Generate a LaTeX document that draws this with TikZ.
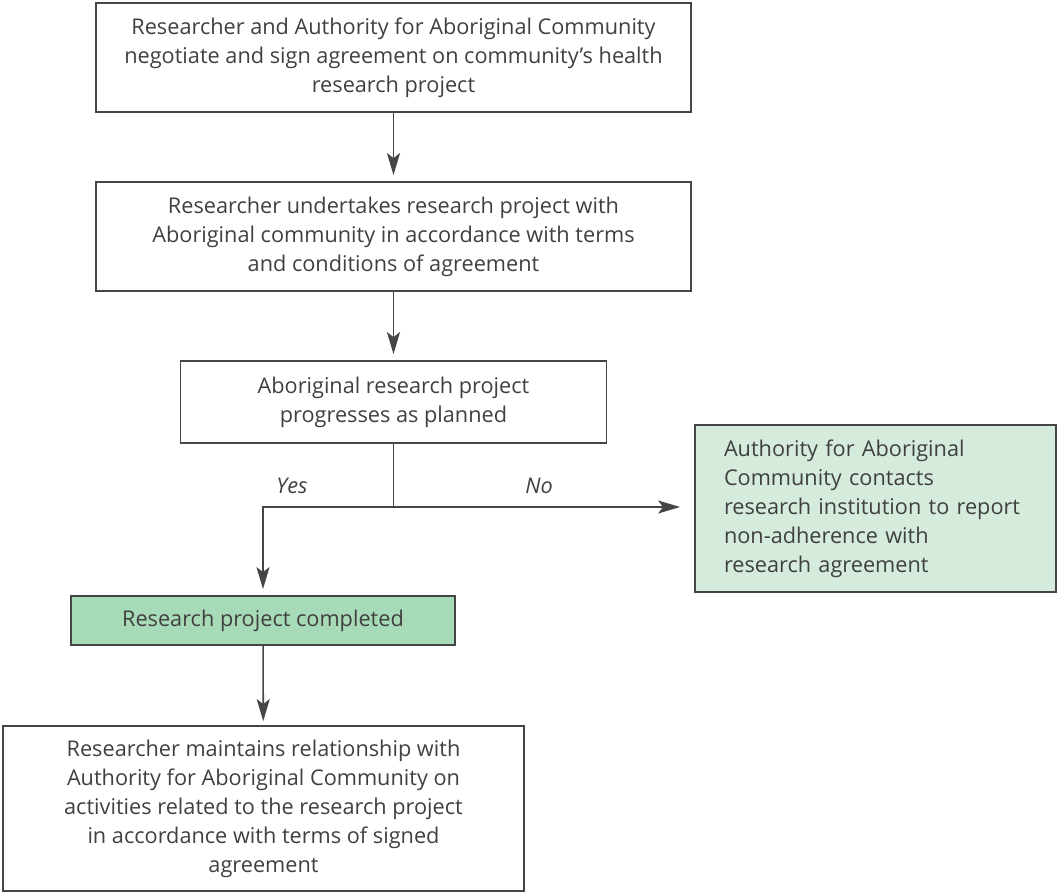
\documentclass[tikz,border=0pt]{standalone}
\usepackage{fontspec}
\setmainfont{Open Sans}
\usetikzlibrary{arrows.meta}
\definecolor{ink}{HTML}{404040}
\definecolor{edge}{HTML}{454545}
\definecolor{gfill}{HTML}{A7DBB7}
\definecolor{lfill}{HTML}{D5ECDD}
\tikzset{
  box/.style={draw=edge, line width=1.8pt, text=ink, align=center, inner sep=0pt,
    font=\fontsize{21.7}{29}\selectfont},
  arr/.style={draw=edge, line width=1.6pt, -{Stealth[length=22pt,width=13pt,inset=5pt]}},
  ln/.style={draw=edge, line width=1.6pt},
  lab/.style={text=ink, font=\fontsize{21.7}{29}\selectfont\itshape, inner sep=0pt, anchor=base}
}
\begin{document}
\begin{tikzpicture}[x=1pt,y=-1pt]
\useasboundingbox (0,0) rectangle (1057,893);
\node[box, minimum width=595pt, minimum height=109pt] (b1) at (393.5,57.5)
  {Researcher and Authority for Aboriginal Community\\negotiate and sign agreement on community’s health\\research project};
\node[box, minimum width=595pt, minimum height=109pt] (b2) at (393.5,236.5)
  {Researcher undertakes research project with\\Aboriginal community in accordance with terms\\and conditions of agreement};
\node[box, minimum width=426pt, minimum height=82pt] (b3) at (393.5,402)
  {Aboriginal research project\\progresses as planned};
\node[box, fill=gfill, minimum width=384pt, minimum height=49pt] (b4) at (263,620.5)
  {Research project completed};
\node[box, minimum width=521pt, minimum height=165pt] (b5) at (263.5,808.5)
  {Researcher maintains relationship with\\Authority for Aboriginal Community on\\activities related to the research project\\in accordance with terms of signed\\agreement};
\node[box, fill=lfill, align=left, text width=303pt, inner xsep=29pt, minimum height=167pt] (b6) at (875.5,508.5)
  {Authority for Aboriginal\\Community contacts\\research institution to report\\non-adherence with\\research agreement};
\coordinate (split) at (393.5,507);
\coordinate (yturn) at (263,507);
\draw[arr, shorten >=6pt] (b1) -- (b2);
\draw[arr, shorten >=6pt] (b2) -- (b3);
\draw[ln] (b3.south) -- (split);
\draw[arr, shorten >=6pt] (split) -- (yturn) -- (b4.north);
\draw[arr, shorten >=14pt] (split) -- (b6.west |- split);
\draw[arr, shorten >=4pt] (b4) -- (b5);
\node[lab] (yes) at (292,493) {Yes};
\node[lab] (no) at (539,493) {No};
\end{tikzpicture}
\end{document}
